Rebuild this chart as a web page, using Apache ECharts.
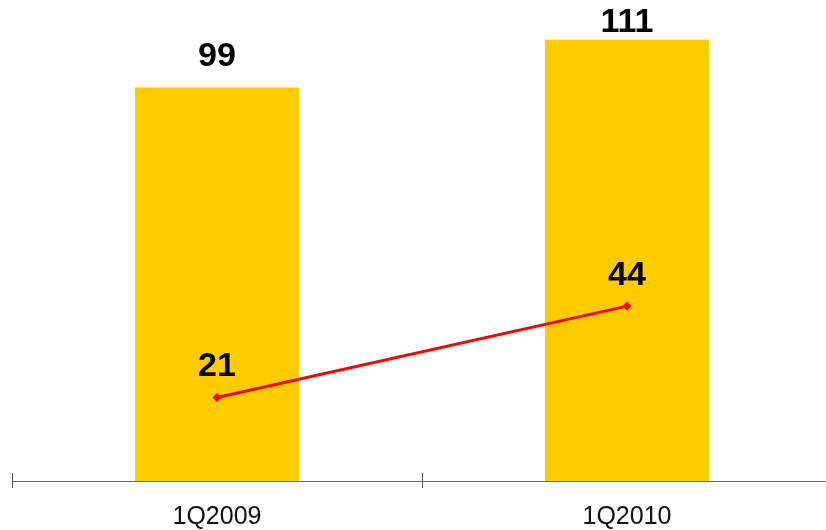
<!DOCTYPE html>
<html>
<head>
<meta charset="utf-8">
<script src="https://cdn.jsdelivr.net/npm/echarts@6/dist/echarts.min.js"></script>
<style>
html, body { margin: 0; padding: 0; background: #fff; overflow: hidden; }
#main { width: 832px; height: 530px; }
</style>
</head>
<body>
<div id="main"></div>
<script>
var categories = ['1Q2009', '1Q2010'];
var barValues = [99, 111];
var lineValues = [21, 44];

var chart = echarts.init(document.getElementById('main'));

// label of the tallest bar sits closer to the bar, as in the original
var barData = barValues.map(function (v, i) {
    return i === 1 ? { value: v, label: { distance: 0 } } : v;
});

var option = {
    animation: false,
    textStyle: { fontFamily: 'Liberation Sans, Arial, sans-serif' },
    grid: { left: 12, right: 0, top: 0, height: 482, containLabel: false },
    xAxis: [{
        type: 'category',
        data: categories,
        axisLine: { lineStyle: { color: '#666', width: 1 } },
        axisTick: { show: true, length: 7, lineStyle: { color: '#555' } },
        axisLabel: { color: '#111', fontSize: 25, margin: 24 }
    }, {
        // second axis only to draw the upper half of the ticks
        type: 'category',
        data: categories,
        position: 'bottom',
        axisLine: { show: false },
        axisTick: { show: true, inside: true, length: 8, lineStyle: { color: '#555' } },
        axisLabel: { show: false }
    }],
    yAxis: {
        type: 'value',
        min: 0,
        max: 121,
        show: false,
        splitLine: { show: false }
    },
    series: [{
        type: 'bar',
        data: barData,
        barWidth: '40%',
        itemStyle: { color: '#FFCC00' },
        label: {
            show: true,
            position: 'top',
            distance: 14,
            color: '#000',
            fontSize: 34,
            fontWeight: 'bold'
        }
    }, {
        type: 'line',
        data: lineValues,
        symbol: 'diamond',
        symbolSize: 9,
        lineStyle: { color: '#FF0000', width: 3 },
        itemStyle: { color: '#FF0000' },
        label: {
            show: true,
            position: 'top',
            distance: 9,
            color: '#000',
            fontSize: 34,
            fontWeight: 'bold'
        }
    }]
};

chart.setOption(option);
</script>
</body>
</html>
